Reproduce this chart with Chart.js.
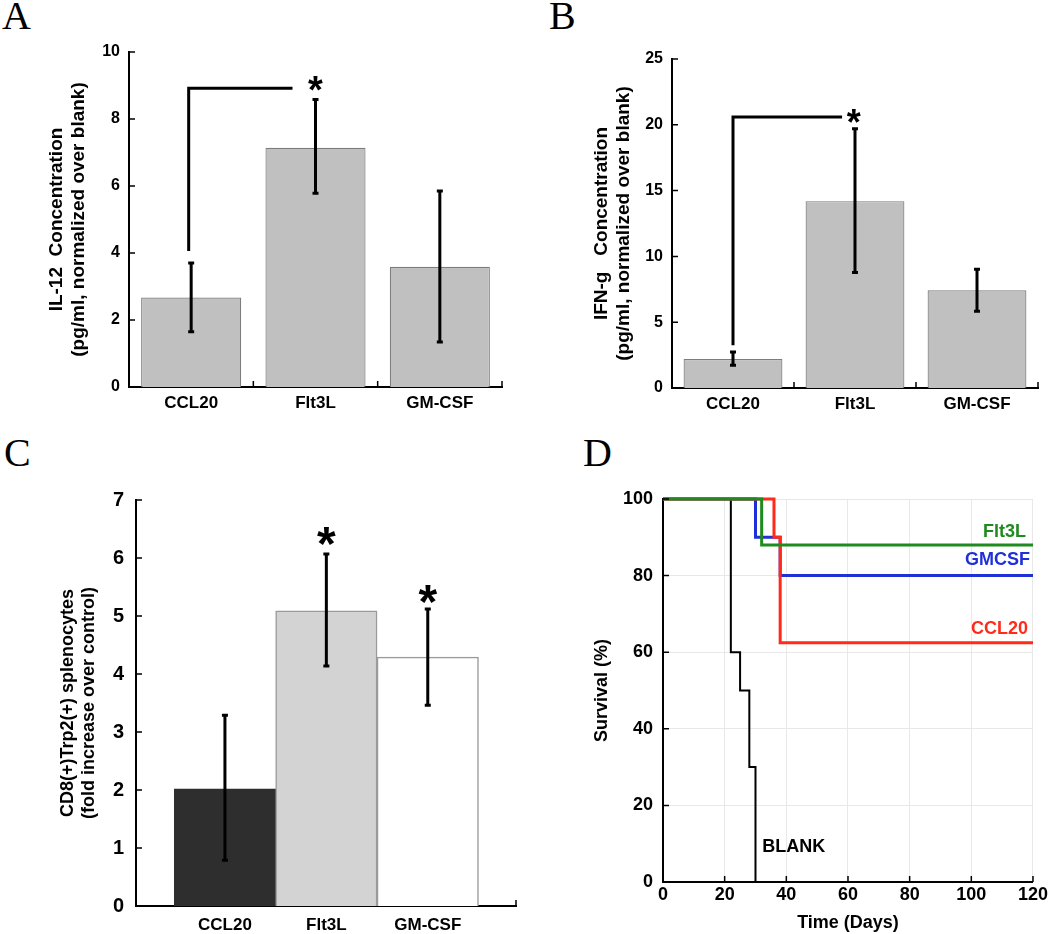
<!DOCTYPE html>
<html>
<head>
<meta charset="utf-8">
<script src="https://cdn.jsdelivr.net/npm/chart.js@4.4.0/dist/chart.umd.min.js"></script>
<style>
  body { margin: 0; background: #fff; width: 1050px; height: 934px; position: relative; overflow: hidden; }
  canvas { position: absolute; }
  .panel { position: absolute; font-family: "Liberation Serif", "DejaVu Serif", serif; font-size: 40px; line-height: 1; }
</style>
</head>
<body>
<div class="panel" style="left:2px;top:-4px">A</div>
<div class="panel" style="left:549px;top:-4px">B</div>
<div class="panel" style="left:4px;top:433px">C</div>
<div class="panel" style="left:583px;top:433px">D</div>

<canvas id="chartA" width="520" height="460" style="left:0;top:0"></canvas>
<canvas id="chartB" width="530" height="460" style="left:520px;top:0"></canvas>
<canvas id="chartC" width="540" height="474" style="left:0;top:460px"></canvas>
<canvas id="chartD" width="470" height="474" style="left:580px;top:460px"></canvas>

<script>
// data
const categories = ["CCL20", "Flt3L", "GM-CSF"];

const il12Mean = [2.67, 7.14, 3.59];
const il12Low  = [1.65, 5.78, 1.34];
const il12High = [3.70, 8.58, 5.85];

const ifngMean = [2.2, 14.2, 7.43];
const ifngLow  = [1.73, 8.78, 5.83];
const ifngHigh = [2.74, 19.7, 9.03];

const cd8Mean = [2.02, 5.09, 4.29];
const cd8Low  = [0.79, 4.14, 3.46];
const cd8High = [3.29, 6.07, 5.12];

const blankDays = [0, 22, 25, 28, 30];
const blankSurv = [100, 60, 50, 30, 0];
const gmcsfDays = [0, 30, 38, 120];
const gmcsfSurv = [100, 90, 80, 80];
const flt3lDays = [0, 32, 120];
const flt3lSurv = [100, 88, 88];
const ccl20Days = [0, 36, 38, 120];
const ccl20Surv = [100, 90, 62.5, 62.5];

Chart.defaults.font.family = "'Liberation Sans', Arial, sans-serif";
Chart.defaults.font.weight = "bold";
Chart.defaults.color = "#000";
Chart.defaults.animation = false;
Chart.defaults.plugins.legend.display = false;
Chart.defaults.plugins.tooltip.enabled = false;

// small tick marks pointing into the plot
const innerTicks = {
  id: "innerTicks",
  afterDraw(chart, args, opts) {
    const { ctx, chartArea: a, scales: { x, y } } = chart;
    const len = opts.length || 6;
    ctx.save();
    ctx.strokeStyle = "#000";
    ctx.lineWidth = opts.width || 1.5;
    ctx.beginPath();
    y.ticks.forEach(t => {
      const py = y.getPixelForValue(t.value);
      ctx.moveTo(a.left, py);
      ctx.lineTo(a.left + len, py);
    });
    const xs = opts.xAt === "ticks" ? x.ticks.map(t => t.value) : (opts.xAt || []);
    xs.forEach(v => {
      const px = x.getPixelForValue(v);
      ctx.moveTo(px, a.bottom);
      ctx.lineTo(px, a.bottom - len);
    });
    ctx.stroke();
    ctx.restore();
  }
};

const errorBars = {
  id: "errorBars",
  afterDatasetsDraw(chart, args, opts) {
    if (!opts.low) return;
    const { ctx, scales: { y } } = chart;
    const meta = chart.getDatasetMeta(0);
    ctx.save();
    ctx.strokeStyle = "#000";
    ctx.lineWidth = opts.width || 3;
    meta.data.forEach((bar, i) => {
      const top = y.getPixelForValue(opts.high[i]);
      const bot = y.getPixelForValue(opts.low[i]);
      const c = opts.cap || 3;
      ctx.beginPath();
      ctx.moveTo(bar.x, top); ctx.lineTo(bar.x, bot);
      ctx.moveTo(bar.x - c, top); ctx.lineTo(bar.x + c, top);
      ctx.moveTo(bar.x - c, bot); ctx.lineTo(bar.x + c, bot);
      ctx.stroke();
    });
    ctx.restore();
  }
};

// significance brackets, stars and curve labels, placed in data units
const marks = {
  id: "marks",
  afterDatasetsDraw(chart, args, opts) {
    const { ctx, scales: { x, y } } = chart;
    ctx.save();
    (opts.brackets || []).forEach(b => {
      ctx.strokeStyle = "#000";
      ctx.lineWidth = 3;
      ctx.beginPath();
      ctx.moveTo(x.getPixelForValue(b.x), y.getPixelForValue(b.from));
      ctx.lineTo(x.getPixelForValue(b.x), y.getPixelForValue(b.to));
      ctx.lineTo(x.getPixelForValue(b.toX), y.getPixelForValue(b.to));
      ctx.stroke();
    });
    (opts.stars || []).forEach(s => {
      ctx.font = "bold " + s.size + "px 'Liberation Sans', Arial, sans-serif";
      ctx.fillStyle = "#000";
      ctx.textAlign = "center";
      ctx.textBaseline = "alphabetic";
      ctx.fillText("*", x.getPixelForValue(s.x), y.getPixelForValue(s.y) + s.size * 0.47);
    });
    (opts.texts || []).forEach(t => {
      ctx.font = "bold 18px 'Liberation Sans', Arial, sans-serif";
      ctx.fillStyle = t.color;
      ctx.textAlign = t.align;
      ctx.textBaseline = "middle";
      ctx.fillText(t.text, x.getPixelForValue(t.x) + (t.dx || 0), y.getPixelForValue(t.y));
    });
    ctx.restore();
  }
};

const fixWidth = w => scale => { scale.width = w; };
const fixHeight = h => scale => { scale.height = h; };

function barPanel(id, opts) {
  return new Chart(document.getElementById(id), {
    type: "bar",
    data: {
      labels: categories,
      datasets: [{
        data: opts.mean,
        backgroundColor: "#c0c0c0",
        borderColor: "#7d7d7d",
        borderWidth: 1.2,
        barPercentage: opts.barPct,
        categoryPercentage: 1
      }]
    },
    options: {
      responsive: false,
      layout: { padding: opts.padding },
      scales: {
        x: {
          grid: { display: false, drawTicks: false },
          border: { display: true, color: "#000", width: 2 },
          ticks: { font: { size: 17 }, padding: 6 },
          afterFit: fixHeight(40)
        },
        y: {
          min: 0, max: opts.max,
          ticks: { stepSize: opts.step, font: { size: 16 }, padding: 9 },
          grid: { display: false, drawTicks: false },
          border: { display: true, color: "#000", width: 2 },
          title: {
            display: true,
            text: opts.title,
            font: { size: 19, lineHeight: 1.16 },
            padding: { top: opts.titlePad, bottom: 0 }
          },
          afterFit: fixWidth(opts.yWidth)
        }
      },
      plugins: {
        errorBars: { low: opts.low, high: opts.high, width: 3, cap: 3 },
        innerTicks: { xAt: [0.5, 1.5, 2.5], length: 6 },
        marks: { brackets: [opts.bracket], stars: [opts.star] }
      }
    },
    plugins: [errorBars, innerTicks, marks]
  });
}

barPanel("chartA", {
  mean: il12Mean, low: il12Low, high: il12High,
  max: 10, step: 2, barPct: 0.805,
  padding: { left: 0, top: 52, right: 18, bottom: 33 },
  yWidth: 129, titlePad: 46,
  title: ["IL-12  Concentration", "(pg/ml, normalized over blank)"],
  bracket: { x: -0.02, from: 4.06, to: 8.92, toX: 0.815 },
  star: { x: 1, y: 9.0, size: 38 }
});

barPanel("chartB", {
  mean: ifngMean, low: ifngLow, high: ifngHigh,
  max: 25, step: 5, barPct: 0.81,
  padding: { left: 0, top: 59, right: 12, bottom: 32 },
  yWidth: 152, titlePad: 71,
  title: ["IFN-g   Concentration", "(pg/ml, normalized over blank)"],
  bracket: { x: 0, from: 3.25, to: 20.6, toX: 0.894 },
  star: { x: 0.99, y: 20.5, size: 36 }
});

// panel C: bars touch each other, axis runs past them on both sides
new Chart(document.getElementById("chartC"), {
  type: "bar",
  data: {
    datasets: [{
      data: cd8Mean.map((v, i) => ({ x: i + 1, y: v })),
      backgroundColor: ["#2e2e2e", "#d3d3d3", "#ffffff"],
      borderColor: ["#2e2e2e", "#9a9a9a", "#9a9a9a"],
      borderWidth: 1.5,
      barPercentage: 1,
      categoryPercentage: 1
    }]
  },
  options: {
    responsive: false,
    layout: { padding: { left: 0, top: 40, right: 24, bottom: 4 } },
    scales: {
      x: {
        type: "linear", min: 0.123, max: 3.87,
        offset: false,
        afterBuildTicks: scale => { scale.ticks = categories.map((c, i) => ({ value: i + 1 })); },
        ticks: { callback: v => categories[v - 1], font: { size: 17 }, padding: 9 },
        grid: { display: false, drawTicks: false, offset: false },
        border: { display: true, color: "#000", width: 2 },
        afterFit: fixHeight(24)
      },
      y: {
        min: 0, max: 7,
        ticks: { stepSize: 1, font: { size: 20 }, padding: 12 },
        grid: { display: false, drawTicks: false },
        border: { display: true, color: "#000", width: 2 },
        title: {
          display: true,
          text: ["CD8(+)Trp2(+) splenocytes", "(fold increase over control)"],
          font: { size: 18, lineHeight: 1.2 },
          padding: { top: 57, bottom: 0 }
        },
        afterFit: fixWidth(136)
      }
    },
    plugins: {
      errorBars: { low: cd8Low, high: cd8High, width: 3, cap: 3 },
      innerTicks: { xAt: [3.87], length: 6 },
      marks: { stars: [{ x: 2, y: 6.36, size: 48 }, { x: 3, y: 5.35, size: 48 }] }
    }
  },
  plugins: [errorBars, innerTicks, marks]
});

// panel D: survival curves
const toPts = (days, surv) => days.map((d, i) => ({ x: d, y: surv[i] }));
new Chart(document.getElementById("chartD"), {
  type: "line",
  data: {
    datasets: [
      { label: "Flt3L", data: toPts(flt3lDays, flt3lSurv), borderColor: "#1f8a1f", borderWidth: 3 },
      { label: "CCL20", data: toPts(ccl20Days, ccl20Surv), borderColor: "#ff2a1a", borderWidth: 3 },
      { label: "GMCSF", data: toPts(gmcsfDays, gmcsfSurv), borderColor: "#1f30d8", borderWidth: 3 },
      { label: "BLANK", data: toPts(blankDays, blankSurv), borderColor: "#000", borderWidth: 2 }
    ].map(d => Object.assign(d, { stepped: "before", pointRadius: 0, fill: false, clip: false }))
  },
  options: {
    responsive: false,
    layout: { padding: { left: 0, top: 39, right: 15, bottom: 0 } },
    scales: {
      x: {
        type: "linear", min: 0, max: 120,
        ticks: { stepSize: 20, font: { size: 18 }, padding: 2 },
        grid: { color: "#e8e8e8", drawTicks: false },
        border: { display: true, color: "#000", width: 2 },
        title: { display: true, text: "Time (Days)", font: { size: 18, lineHeight: 1.2 }, padding: { top: 0, bottom: 0 } },
        afterFit: fixHeight(52)
      },
      y: {
        min: 0, max: 100,
        ticks: { stepSize: 20, font: { size: 18 }, padding: 10 },
        grid: { color: "#e8e8e8", drawTicks: false },
        border: { display: true, color: "#000", width: 2 },
        title: { display: true, text: "Survival (%)", font: { size: 18, lineHeight: 1.2 }, padding: { top: 11, bottom: 0 } },
        afterFit: fixWidth(83)
      }
    },
    plugins: {
      innerTicks: { xAt: "ticks", length: 6 },
      marks: {
        texts: [
          { text: "Flt3L", x: 120, dx: -7, y: 91.3, color: "#1f8a1f", align: "right" },
          { text: "GMCSF", x: 120, dx: -3, y: 84.1, color: "#1f30d8", align: "right" },
          { text: "CCL20", x: 120, dx: -5, y: 66.1, color: "#ff2a1a", align: "right" },
          { text: "BLANK", x: 32.2, y: 9.1, color: "#000", align: "left" }
        ]
      }
    }
  },
  plugins: [innerTicks, marks]
});
</script>
</body>
</html>
